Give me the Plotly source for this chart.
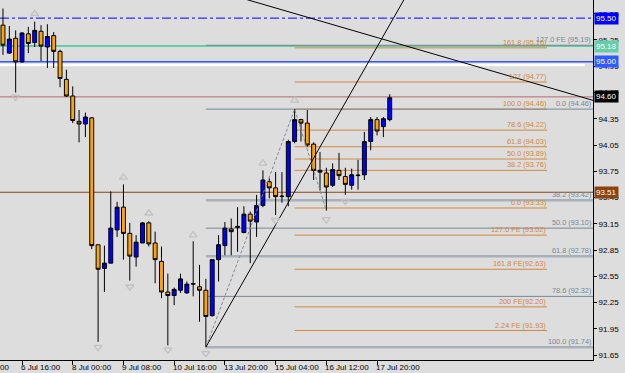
import plotly.graph_objects as go

# ---------------- data ----------------
BAR_INDEX = list(range(62))
OPEN = [95.42, 95.10, 95.27, 95.00, 95.32, 95.22, 95.35, 95.17, 95.30, 95.12,
        94.80, 94.61, 94.32, 94.29, 94.36, 92.91, 92.64, 92.70, 93.08, 93.34,
        93.04, 92.77, 92.93, 93.16, 92.93, 92.72, 92.37, 92.33, 92.39, 92.36,
        92.46, 92.43, 92.39, 92.10, 92.74, 92.90, 93.09, 93.12, 93.05, 93.26,
        93.17, 93.36, 93.63, 93.56, 93.46, 93.46, 94.09, 94.34, 94.30, 94.06,
        93.76, 93.73, 93.59, 93.76, 93.69, 93.59, 93.70, 93.71, 94.09, 94.34,
        94.26, 94.34]
HIGH = [95.61, 95.41, 95.36, 95.34, 95.40, 95.46, 95.42, 95.43, 95.34, 95.14,
        94.91, 94.72, 94.45, 94.42, 94.37, 92.91, 92.90, 93.52, 93.40, 93.60,
        93.16, 93.02, 93.17, 93.18, 93.06, 92.89, 92.58, 92.42, 92.58, 92.49,
        92.95, 92.68, 92.52, 92.74, 93.02, 93.17, 93.21, 93.34, 93.35, 93.29,
        93.48, 93.76, 93.67, 93.74, 93.74, 94.11, 94.46, 94.35, 94.45, 94.08,
        93.97, 93.79, 93.84, 93.96, 93.79, 93.78, 93.88, 94.20, 94.37, 94.37,
        94.37, 94.63]
LOW = [95.08, 95.09, 94.65, 94.99, 95.10, 95.17, 95.01, 94.93, 94.93, 94.71,
       94.60, 94.30, 94.08, 94.14, 92.86, 91.80, 92.37, 92.70, 93.00, 92.74,
       92.50, 92.66, 92.93, 92.89, 92.47, 92.30, 91.76, 92.22, 92.36, 92.35,
       92.32, 92.03, 91.74, 92.09, 92.49, 92.79, 92.79, 92.83, 93.04, 92.70,
       93.00, 93.34, 93.44, 93.25, 93.39, 93.35, 94.07, 94.09, 94.03, 93.65,
       93.53, 93.30, 93.57, 93.65, 93.48, 93.54, 93.54, 93.65, 93.99, 94.16,
       94.14, 94.32]
CLOSE = [95.19, 95.26, 95.00, 95.33, 95.21, 95.36, 95.18, 95.29, 95.12, 94.81,
         94.61, 94.33, 94.29, 94.37, 92.90, 92.63, 92.70, 93.10, 93.34, 93.04,
         92.78, 92.94, 93.16, 92.92, 92.74, 92.37, 92.33, 92.40, 92.52, 92.46,
         92.465, 92.39, 92.09, 92.74, 92.91, 93.10, 93.06, 93.11, 93.26, 93.18,
         93.36, 93.65, 93.56, 93.46, 93.465, 94.09, 94.34, 94.30, 94.05, 93.76,
         93.74, 93.57, 93.77, 93.70, 93.60, 93.71, 93.705, 94.09, 94.34, 94.21,
         94.35, 94.59]

X_RANGE = [-0.47, 93.06]
Y_RANGE = [91.593, 95.707]
X_TICK_INDEX = [3, 11, 19, 27, 35, 43, 51, 59]
X_TICK_LABELS = ["6 Jul 16:00", "8 Jul 00:00", "9 Jul 08:00", "10 Jul 16:00",
                 "13 Jul 20:00", "15 Jul 04:00", "16 Jul 12:00", "17 Jul 20:00"]
X_CUT_LABEL = "00"  # tail of the previous, cut-off time label at the left edge
Y_TICKS = [91.65, 91.95, 92.25, 92.55, 92.85, 93.15, 93.45, 93.75, 94.05,
           94.35, 94.65, 94.95, 95.25, 95.55]

# horizontal price lines (full width) and their right-axis labels
H_LEVELS = [95.50, 95.18, 95.00, 94.60, 93.51]
H_COLORS = ["#0000FF", "#66CDAA", "#2E5BFF", "#B86A6A", "#8B4513"]
H_WIDTHS = [1, 2, 1.5, 1, 1]
H_DASH = ["dashdot", "solid", "solid", "solid", "solid"]
H_LABEL_BG = ["#0000FF", "#66CDAA", "#2E5BFF", "#000000", "#8B4513"]
WHITE_LEVEL = 94.965
WHITE_END = 91.8

# Fibonacci set A (orange)
FIB_A_START, FIB_A_END = 46, 85.8
FIB_A_LEVELS = [95.16, 94.77, 94.46, 94.22, 94.03, 93.89, 93.76, 93.33,
                93.02, 92.63, 92.20, 91.93]
FIB_A_TEXT = ["161.8 (95.16)", "127 (94.77)", "100.0 (94.46)", "78.6 (94.22)",
              "61.8 (94.03)", "50.0 (93.89)", "38.2 (93.76)", "0.0 (93.33)",
              "127.0 FE (93.02)", "161.8 FE(92.63)", "200 FE(92.20)",
              "2.24 FE (91.93)"]

# Fibonacci set B (slate gray); some levels drawn as thick light lines
FIB_B_START = 32
FIB_B_LEVELS = [95.19, 94.46, 93.42, 93.10, 92.78, 92.32, 91.74]
FIB_B_TEXT = ["127.0 FE (95.19)", "0.0 (94.46)", "38.2 (93.42)", "50.0 (93.10)",
              "61.8 (92.78)", "78.6 (92.32)", "100.0 (91.74)"]
FIB_B_THICK = [False, False, True, False, True, False, True]

# fractal arrows
UP_FRACTAL_X = [5, 19, 23, 30, 41, 46]
UP_FRACTAL_Y = [95.55, 93.68, 93.27, 93.02, 93.84, 94.56]
DOWN_FRACTAL_X = [2, 15, 20, 26, 32, 43, 51, 54]
DOWN_FRACTAL_Y = [94.60, 91.74, 92.43, 91.71, 91.67, 93.19, 93.20, 93.41]

# zigzag and trend lines
ZIGZAG_X = [32, 46, 51]
ZIGZAG_Y = [91.74, 94.46, 93.30]
TREND_DOWN_X = [30, 93.06]
TREND_DOWN_Y = [95.89, 94.56]
TREND_UP_X = [32, 66]
TREND_UP_Y = [91.74, 96.06]

BG = "#DDDDDD"
ORANGE = "#D2883C"
SLATE = "#778899"
SLATE_LIGHT = "#A7B1BB"
FRACTAL = "#C2C2C2"
FONT = "Liberation Sans"

fig = go.Figure()

shapes = []
# white line under 95.00
shapes.append(dict(type="line", xref="x", yref="y", x0=X_RANGE[0], x1=WHITE_END,
                   y0=WHITE_LEVEL, y1=WHITE_LEVEL, line=dict(color="white", width=2.5),
                   layer="below"))
for lv in FIB_A_LEVELS:
    shapes.append(dict(type="line", xref="x", yref="y", x0=FIB_A_START, x1=FIB_A_END,
                       y0=lv, y1=lv, line=dict(color=ORANGE, width=1), layer="below"))
for lv, thick in zip(FIB_B_LEVELS, FIB_B_THICK):
    shapes.append(dict(type="line", xref="x", yref="y", x0=FIB_B_START, x1=X_RANGE[1],
                       y0=lv, y1=lv,
                       line=dict(color=SLATE_LIGHT if thick else SLATE,
                                 width=2.5 if thick else 1), layer="below"))
for lv, c, w, d in zip(H_LEVELS, H_COLORS, H_WIDTHS, H_DASH):
    shapes.append(dict(type="line", xref="paper", yref="y", x0=0, x1=1, y0=lv, y1=lv,
                       line=dict(color=c, width=w, dash=d), layer="below"))

fig.add_trace(go.Scatter(x=ZIGZAG_X, y=ZIGZAG_Y, mode="lines",
                         line=dict(color="#7F8894", width=1, dash="3px,2px"),
                         hoverinfo="skip", showlegend=False))
fig.add_trace(go.Scatter(x=TREND_DOWN_X, y=TREND_DOWN_Y, mode="lines",
                         line=dict(color="black", width=1), hoverinfo="skip",
                         showlegend=False))
fig.add_trace(go.Scatter(x=TREND_UP_X, y=TREND_UP_Y, mode="lines",
                         line=dict(color="black", width=1), hoverinfo="skip",
                         showlegend=False))
fig.add_trace(go.Scatter(x=UP_FRACTAL_X, y=UP_FRACTAL_Y, mode="markers",
                         marker=dict(symbol="triangle-up-open", size=7, color=FRACTAL,
                                     line=dict(color=FRACTAL, width=1.3)),
                         cliponaxis=False, hoverinfo="skip", showlegend=False))
fig.add_trace(go.Scatter(x=DOWN_FRACTAL_X, y=DOWN_FRACTAL_Y, mode="markers",
                         marker=dict(symbol="triangle-down-open", size=7, color=FRACTAL,
                                     line=dict(color=FRACTAL, width=1.3)),
                         cliponaxis=False, hoverinfo="skip", showlegend=False))
fig.add_trace(go.Candlestick(
    x=BAR_INDEX, open=OPEN, high=HIGH, low=LOW, close=CLOSE,
    increasing=dict(line=dict(color="black", width=1), fillcolor="#0000FF"),
    decreasing=dict(line=dict(color="black", width=1), fillcolor="#FFA500"),
    whiskerwidth=0, showlegend=False))

annotations = []
for lv, bg in zip(H_LEVELS, H_LABEL_BG):
    annotations.append(dict(xref="paper", x=1, xanchor="left", xshift=1, yref="y", y=lv,
                            yanchor="middle", text=f"{lv:.2f}", showarrow=False,
                            bgcolor=bg, borderpad=1,
                            font=dict(family=FONT, size=8, color="white")))
for lv, t in zip(FIB_A_LEVELS, FIB_A_TEXT):
    annotations.append(dict(xref="x", x=FIB_A_END, xanchor="right", yref="y", y=lv,
                            yanchor="bottom", text=t, showarrow=False, borderpad=0,
                            font=dict(family=FONT, size=7.3, color=ORANGE)))
for lv, t in zip(FIB_B_LEVELS, FIB_B_TEXT):
    annotations.append(dict(xref="paper", x=1, xanchor="right", xshift=-1, yref="y", y=lv,
                            yanchor="bottom", text=t, showarrow=False, borderpad=0,
                            font=dict(family=FONT, size=7.3, color=SLATE)))
for xi, t in zip(X_TICK_INDEX, X_TICK_LABELS):
    annotations.append(dict(xref="x", x=xi, xanchor="left", xshift=-2, yref="paper", y=0,
                            yanchor="top", yshift=-2, text=t, showarrow=False,
                            borderpad=0, font=dict(family=FONT, size=8, color="black")))
annotations.append(dict(xref="paper", x=0, xanchor="left", xshift=-1, yref="paper", y=0,
                        yanchor="top", yshift=-2, text=X_CUT_LABEL, showarrow=False,
                        borderpad=0, font=dict(family=FONT, size=8, color="black")))

fig.update_layout(
    width=625, height=373, margin=dict(l=0, r=32, t=0, b=13),
    paper_bgcolor=BG, plot_bgcolor=BG, showlegend=False,
    boxgap=0.38, boxgroupgap=0,
    shapes=shapes, annotations=annotations,
    font=dict(family=FONT, size=8, color="black"),
    xaxis=dict(range=X_RANGE, showgrid=False, zeroline=False, showline=True,
               linecolor="black", linewidth=1, ticks="outside", ticklen=4,
               tickcolor="black", tickvals=X_TICK_INDEX, showticklabels=False,
               rangeslider=dict(visible=False), fixedrange=True),
    yaxis=dict(range=Y_RANGE, side="right", showgrid=False, zeroline=False,
               showline=True, linecolor="black", linewidth=1, ticks="outside",
               ticklen=3, tickcolor="black", tickvals=Y_TICKS,
               ticktext=[f"{v:.2f}" for v in Y_TICKS],
               tickfont=dict(family=FONT, size=8, color="black"), fixedrange=True),
)

fig.write_html("out.html")
